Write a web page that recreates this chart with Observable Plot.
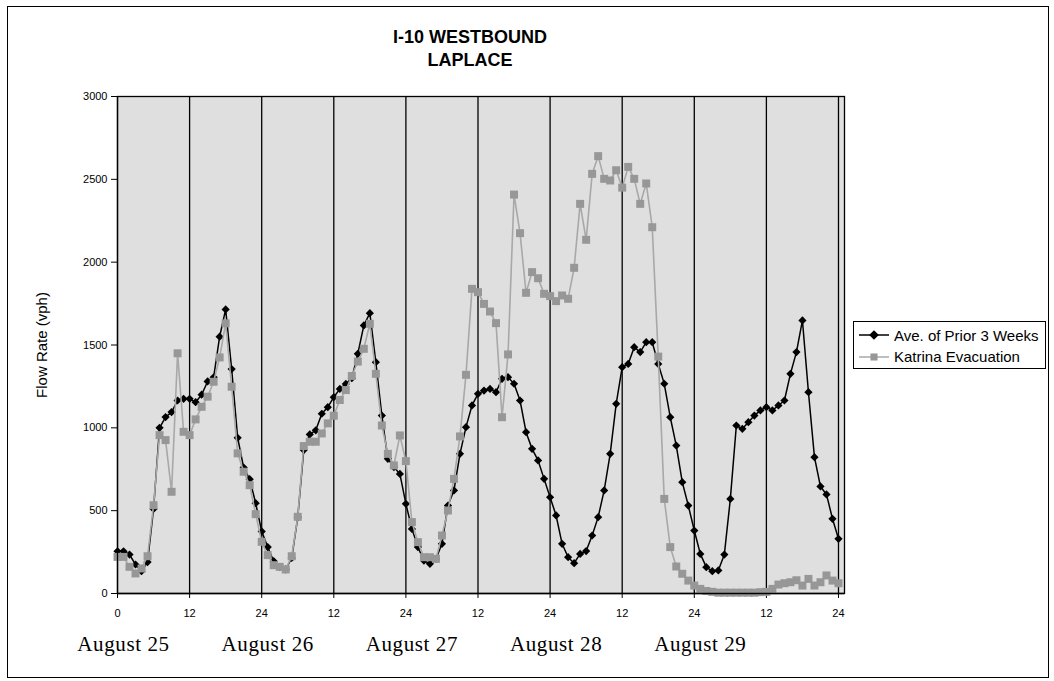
<!DOCTYPE html>
<html>
<head>
<meta charset="utf-8">
<script src="https://cdn.jsdelivr.net/npm/d3@7"></script>
<script src="https://cdn.jsdelivr.net/npm/@observablehq/plot@0.6"></script>
<style>
  html, body { margin: 0; padding: 0; background: #fff; }
  #wrap { position: relative; width: 1054px; height: 681px; overflow: hidden; font-family: "Liberation Sans", Arial, sans-serif; }
  #frame { position: absolute; left: 7px; top: 6px; width: 1042px; height: 672px; border: 1.5px solid #000; box-sizing: border-box; }
  #title { position: absolute; left: 320px; width: 300px; top: 26px; text-align: center; font-weight: bold; font-size: 18px; line-height: 22.5px; }
  #ylabel { position: absolute; left: 41px; top: 345px; transform: translate(-50%, -50%) rotate(-90deg); font-size: 15px; white-space: nowrap; }
  #chart { position: absolute; left: 0; top: 0; }
  #legend { position: absolute; left: 853px; top: 321px; width: 193px; height: 48px; border: 1.5px solid #000; box-sizing: border-box; background: #fff; }
  .lrow { position: absolute; left: 0; height: 20px; display: flex; align-items: center; font-size: 15px; white-space: nowrap; }
  .lrow svg { margin-left: 5px; margin-right: 5px; }
</style>
</head>
<body>
<div id="wrap">
  <div id="frame"></div>
  <div id="chart"></div>
  <div id="title"></div>
  <div id="ylabel"></div>
  <div id="legend"></div>
</div>
<script>
// ---- data ----
const titleLines = ["I-10 WESTBOUND", "LAPLACE"];
const yLabel = "Flow Rate (vph)";
const seriesNames = ["Ave. of Prior 3 Weeks", "Katrina Evacuation"];
const dayNames = ["August 25", "August 26", "August 27", "August 28", "August 29"];
const xTickHours = [0, 12, 24, 36, 48, 60, 72, 84, 96, 108, 120];
const xTickLabels = ["0", "12", "24", "12", "24", "12", "24", "12", "24", "12", "24"];
const yTicks = [0, 500, 1000, 1500, 2000, 2500, 3000];

// hourly flow rate (vph), hour 0 .. 120
const avgPrior = [
  255, 255, 235, 175, 135, 190, 510, 1000, 1065, 1095,
  1165, 1175, 1175, 1155, 1200, 1280, 1305, 1550, 1715, 1355,
  940, 760, 690, 545, 375, 280, 195, 160, 145, 215,
  460, 866, 960, 985, 1085, 1125, 1185, 1235, 1265, 1300,
  1447, 1618, 1692, 1396, 1074, 813, 763, 722, 541, 390,
  280, 199, 179, 209, 300, 531, 622, 843, 1004, 1135,
  1205, 1225, 1235, 1215, 1296, 1306, 1266, 1165, 974, 873,
  803, 692, 581, 471, 300, 219, 183, 239, 256, 350,
  461, 622, 843, 1145, 1366, 1386, 1487, 1457, 1517, 1517,
  1386, 1266, 1064, 893, 672, 531, 380, 239, 159, 135,
  139, 235, 571, 1014, 994, 1034, 1074, 1105, 1125, 1105,
  1135, 1165, 1326, 1457, 1648, 1215, 823, 646, 598, 451, 330
];
const katrina = [
  221, 221, 161, 121, 151, 225, 533, 956, 926, 614,
  1450, 976, 956, 1051, 1127, 1188, 1278, 1425, 1631, 1248,
  846, 735, 654, 479, 312, 232, 171, 161, 145, 225,
  463, 890, 916, 916, 966, 1027, 1073, 1168, 1228, 1313,
  1400, 1477, 1628, 1326, 1014, 843, 773, 954, 799, 431,
  310, 219, 219, 209, 350, 501, 692, 948, 1320, 1839,
  1819, 1748, 1702, 1632, 1064, 1443, 2408, 2175, 1815, 1940,
  1903, 1809, 1795, 1765, 1799, 1779, 1966, 2352, 2135, 2533,
  2640, 2503, 2493, 2555, 2450, 2575, 2503, 2352, 2475, 2211,
  1430, 571, 280, 163, 119, 78, 48, 28, 15, 10,
  5, 5, 5, 5, 5, 5, 5, 8, 10, 28,
  54, 62, 68, 80, 48, 88, 48, 68, 109, 78, 62
];

// ---- build ----
const hours = avgPrior.map((_, i) => i);
const rows = hours.map(h => ({hour: h, avg: avgPrior[h], kat: katrina[h]}));
const gridHours = xTickHours.filter(h => h > 0);
const tickLabelOf = new Map(xTickHours.map((h, i) => [h, xTickLabels[i]]));

const colors = {avg: "#000000", katLine: "#a8a8a8", katDot: "#979797"};

const chart = Plot.plot({
  width: 1054,
  height: 681,
  marginLeft: 117,
  marginRight: 210,
  marginTop: 96,
  marginBottom: 88,
  style: {fontFamily: "'Liberation Sans', Arial, sans-serif", fontSize: "11px", background: "transparent", color: "#000", overflow: "visible"},
  x: {domain: [0, 121], ticks: xTickHours, tickFormat: h => tickLabelOf.get(h), tickSize: 5, tickPadding: 11, label: null},
  y: {domain: [0, 3000], ticks: yTicks, tickFormat: d => String(d), tickSize: 6, tickPadding: 4, label: null},
  marks: [
    Plot.frame({fill: "#dfdfdf", stroke: "#000", strokeWidth: 1.3}),
    Plot.ruleX(gridHours, {stroke: "#000", strokeWidth: 1.3}),
    Plot.line(rows, {x: "hour", y: "avg", stroke: colors.avg, strokeWidth: 1.5}),
    Plot.dot(rows, {x: "hour", y: "avg", symbol: "diamond2", r: 3.7, fill: colors.avg, stroke: "none"}),
    Plot.line(rows, {x: "hour", y: "kat", stroke: colors.katLine, strokeWidth: 1.6}),
    Plot.dot(rows, {x: "hour", y: "kat", symbol: "square", r: 4.5, fill: colors.katDot, stroke: "none"}),
    Plot.ruleY([0], {stroke: "#000", strokeWidth: 1.3}),
    Plot.ruleX([0], {stroke: "#000", strokeWidth: 1.3}),
    Plot.text(dayNames, {x: (d, i) => i * 24, y: 0, text: d => d, dx: 6, dy: 51, fontFamily: "'Liberation Serif', 'Times New Roman', serif", fontSize: 21, fill: "#000"})
  ]
});
// slightly wider tracking on the serif date labels, like the scanned original
d3.select(chart).selectAll("g[font-family*='Serif'] text").style("letter-spacing", "0.6px");
document.getElementById("chart").appendChild(chart);

document.getElementById("title").innerHTML = titleLines.join("<br>");
document.getElementById("ylabel").textContent = yLabel;

// legend
const legend = d3.select("#legend");
const legendItems = [
  {name: seriesNames[0], line: colors.avg, fill: colors.avg, symbol: d3.symbolDiamond2, size: 60},
  {name: seriesNames[1], line: colors.katLine, fill: colors.katDot, symbol: d3.symbolSquare, size: 50}
];
legendItems.forEach((it, i) => {
  const row = legend.append("div").attr("class", "lrow").style("top", (i === 0 ? 3 : 24.5) + "px");
  const svg = row.append("svg").attr("width", 30).attr("height", 12);
  svg.append("line").attr("x1", 0).attr("x2", 30).attr("y1", 6).attr("y2", 6).attr("stroke", it.line).attr("stroke-width", 1.5);
  svg.append("path").attr("d", d3.symbol(it.symbol, it.size)()).attr("transform", "translate(15,6)").attr("fill", it.fill);
  row.append("span").text(it.name);
});
</script>
</body>
</html>
